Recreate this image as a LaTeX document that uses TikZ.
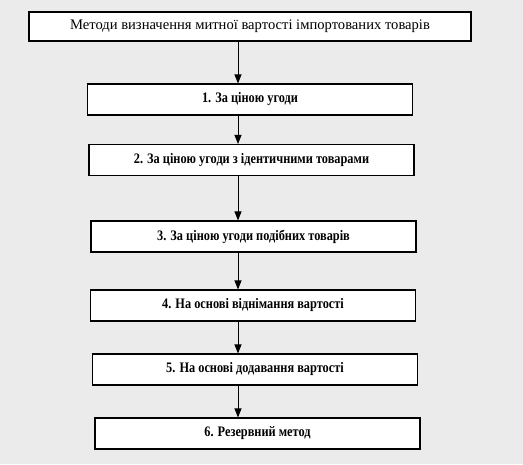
\documentclass[tikz,border=0pt]{standalone}
\usepackage{fontspec}
\setmainfont{Liberation Serif}
\newfontfamily\methodfont[FakeStretch=0.85]{Liberation Serif}
\usetikzlibrary{positioning,arrows.meta}

\tikzset{
  method/.style={draw, line width=1.1pt, fill=white, minimum width=325pt,
    minimum height=31pt, inner sep=0pt, font=\methodfont\fontsize{14.5}{16}\selectfont\bfseries},
  title/.style={method, minimum width=442pt, minimum height=29pt,
    font=\fontsize{14.6}{16}\selectfont}
}

\begin{document}
\begin{tikzpicture}[on grid, >={Triangle[length=9pt,width=7pt]}, line width=0.9pt]
    \useasboundingbox[fill=black!8] (0,0) rectangle (523pt,464pt);
    \node[title] (m_0) at (250pt,437.5pt) {Методи визначення митної вартості імпортованих товарів};
    \node[method] (m_1) [below=73pt of m_0] {1. За ціною угоди};
    \node[method] (m_2) [below right=60.5pt and 1.5pt of m_1] {2. За ціною угоди з ідентичними товарами};
    \node[method] (m_3) [below right=76.5pt and 2pt of m_2] {3. За ціною угоди подібних товарів};
    \node[method] (m_4) [below left=69pt and 0.5pt of m_3] {4. На основі віднімання вартості};
    \node[method] (m_5) [below right=64pt and 2pt of m_4] {5. На основі додавання вартості};
    \node[method] (m_6) [below right=64pt and 2.5pt of m_5] {6. Резервний метод};
    \coordinate (axis) at (238pt,0);
      \path[->]
          (m_0.south -| axis) edge (m_1.north -| axis)
          (m_1.south -| axis) edge (m_2.north -| axis)
          (m_2.south -| axis) edge (m_3.north -| axis)
          (m_3.south -| axis) edge (m_4.north -| axis)
          (m_4.south -| axis) edge (m_5.north -| axis)
          (m_5.south -| axis) edge (m_6.north -| axis);
  \end{tikzpicture}
\end{document}
